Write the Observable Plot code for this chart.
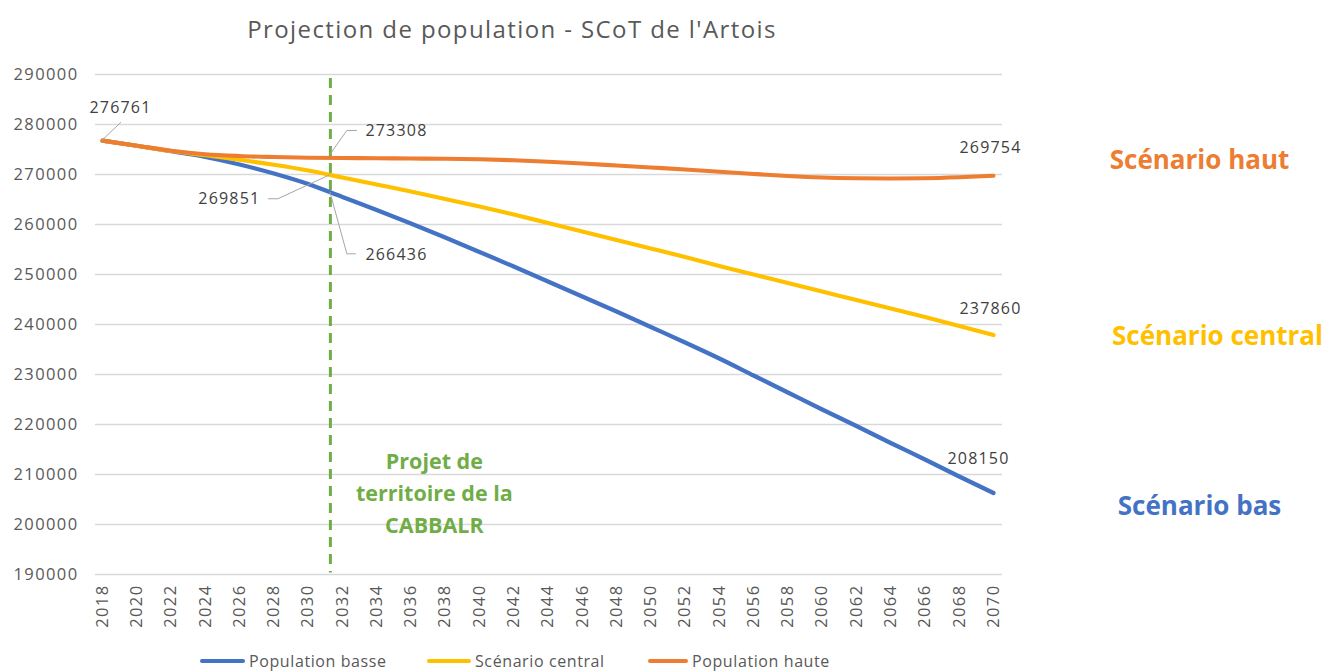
<!DOCTYPE html>
<html>
<head>
<meta charset="utf-8">
<script src="https://cdn.jsdelivr.net/npm/d3@7"></script>
<script src="https://cdn.jsdelivr.net/npm/@observablehq/plot@0.6"></script>
<style>
  html, body { margin: 0; padding: 0; background: #fff; }
  body { width: 1326px; height: 671px; position: relative; overflow: hidden; font-family: "Open Sans", sans-serif; }
  #title { position: absolute; top: 12px; left: 0; width: 1024px; text-align: center; font-size: 24px; letter-spacing: 1.4px; color: #595959; }
  #chart { position: absolute; top: 60px; left: 0; }
  #chart svg g[aria-label="y-axis tick label"] text,
  #chart svg g[aria-label="x-axis tick label"] text { letter-spacing: 1.4px; }
  #chart svg .dl text { letter-spacing: 1.2px; }
  .lg { position: absolute; top: 650px; height: 22px; display: flex; align-items: center; font-size: 16px; letter-spacing: 0.6px; color: #595959; }
  .sw { display: inline-block; height: 4px; border-radius: 2px; margin-right: 4px; }
</style>
</head>
<body>
<div id="title">Projection de population - SCoT de l'Artois</div>
<div id="chart"></div>
<div class="lg" style="left:200px"><span class="sw" style="width:45px;background:#4472C4"></span>Population basse</div>
<div class="lg" style="left:427px"><span class="sw" style="width:44px;background:#FFC000"></span>Scénario central</div>
<div class="lg" style="left:648px"><span class="sw" style="width:40px;background:#ED7D31"></span>Population haute</div>
<script>
// ---- data ----
const years = [2018, 2020, 2022, 2024, 2026, 2028, 2030, 2032, 2034, 2036, 2038, 2040, 2042, 2044,
               2046, 2048, 2050, 2052, 2054, 2056, 2058, 2060, 2062, 2064, 2066, 2068, 2070];
const populationBasse = [276761, 275750, 274650, 273500, 272000, 270200, 268100, 265500, 262900, 260200,
                         257400, 254500, 251600, 248600, 245600, 242600, 239500, 236400, 233200, 229800,
                         226400, 223000, 219700, 216300, 213000, 209600, 206300];
const scenarioCentral = [276761, 275750, 274700, 273850, 272950, 271950, 270800, 269400, 268000, 266600,
                         265100, 263600, 262000, 260300, 258600, 256900, 255200, 253500, 251700, 250000,
                         248300, 246600, 244900, 243200, 241500, 239700, 237900];
const populationHaute = [276761, 275750, 274750, 274050, 273700, 273500, 273350, 273300, 273250, 273200,
                         273150, 273050, 272850, 272550, 272200, 271800, 271400, 271000, 270550, 270100,
                         269700, 269400, 269250, 269200, 269250, 269450, 269754];
const seriesNames = ["Population basse", "Scénario central", "Population haute"];
const seriesColors = ["#4472C4", "#FFC000", "#ED7D31"];
const scenarioLabels = ["Scénario bas", "Scénario central", "Scénario haut"];
const yTicks = [190000, 200000, 210000, 220000, 230000, 240000, 250000, 260000, 270000, 280000, 290000];
const projectYear = 2031.3;           // year of the dashed "Projet de territoire" line
const projectValues = [266436, 269851, 273308]; // basse, central, haute at projectYear
const startLabel = 276761;
const endLabels = ["208150", "237860", "269754"]; // basse, central, haute
const projectText = "Projet de\nterritoire de la\nCABBALR";

// ---- build tables ----
const allSeries = [populationBasse, scenarioCentral, populationHaute];
const rows = allSeries.flatMap((vals, i) => vals.map((v, j) => ({year: years[j], value: v, series: seriesNames[i]})));
const ends = allSeries.map((vals, i) => ({year: years[years.length - 1], value: vals[vals.length - 1], label: endLabels[i], scen: scenarioLabels[i], color: seriesColors[i]}));
const proj = projectValues.map((v, i) => ({year: projectYear, value: v, label: String(v), series: seriesNames[i]}));
const start = [{year: years[0], value: startLabel, label: String(startLabel)}];

// leader lines drawn through the plot's scales (pixel offsets from anchor)
const leaderOffsets = {
  start: [[0, 0], [19, -18]],
  haute: [[0, -3], [17, -27], [27, -27]],
  central: [[0, 0], [-52, 24], [-62, 24]],
  basse: [[0, 0], [17, 62], [26, 62]]
};
function leaders(index, scales) {
  const g = d3.create("svg:g").attr("fill", "none").attr("stroke", "#a6a6a6").attr("stroke-width", 1);
  const items = [
    [start[0], leaderOffsets.start],
    [proj[2], leaderOffsets.haute],
    [proj[1], leaderOffsets.central],
    [proj[0], leaderOffsets.basse]
  ];
  for (const [d, offs] of items) {
    const x0 = scales.x(d.year), y0 = scales.y(d.value);
    g.append("path").attr("d", d3.line()(offs.map(([dx, dy]) => [x0 + dx, y0 + dy])));
  }
  return g.node();
}

const dl = {fontSize: 16, fill: "#404040", className: "dl"};
const chart = Plot.plot({
  width: 1326,
  height: 590,
  marginTop: 14,
  marginBottom: 76,
  marginLeft: 95,
  marginRight: 324,
  insetLeft: 7,
  insetRight: 9,
  style: {fontFamily: "Open Sans, sans-serif", color: "#595959", background: "white", overflow: "visible"},
  x: {domain: [years[0], years[years.length - 1]]},
  y: {domain: [yTicks[0], yTicks[yTicks.length - 1]]},
  color: {domain: seriesNames, range: seriesColors},
  marks: [
    Plot.gridY(yTicks, {stroke: "#d9d9d9", strokeOpacity: 1, strokeWidth: 1.3}),
    Plot.axisY(yTicks, {tickSize: 0, tickPadding: 17, tickFormat: d => String(d), fontSize: 16.5, fill: "#595959", label: null}),
    Plot.axisX(years, {tickSize: 0, tickPadding: 10, tickRotate: -90, tickFormat: d => String(d), fontSize: 16.5, fill: "#595959", label: null}),
    Plot.ruleX([projectYear], {y1: 289200, y2: 190300, stroke: "#70AD47", strokeWidth: 3, strokeDasharray: "10,7"}),
    Plot.line(rows, {x: "year", y: "value", z: "series", stroke: "series", strokeWidth: 4.2, curve: "monotone-x", strokeLinecap: "round"}),
    leaders,
    Plot.text(start, {x: "year", y: "value", text: "label", dx: 18, dy: -33, ...dl}),
    Plot.text([proj[2]], {x: "year", y: "value", text: "label", dx: 35, dy: -27, textAnchor: "start", ...dl}),
    Plot.text([proj[1]], {x: "year", y: "value", text: "label", dx: -70, dy: 24, textAnchor: "end", ...dl}),
    Plot.text([proj[0]], {x: "year", y: "value", text: "label", dx: 35, dy: 63, textAnchor: "start", ...dl}),
    Plot.text([ends[2]], {x: "year", y: "value", text: "label", dx: -3, dy: -28, ...dl}),
    Plot.text([ends[1]], {x: "year", y: "value", text: "label", dx: -3, dy: -26, ...dl}),
    Plot.text([ends[0]], {x: "year", y: "value", text: "label", dx: -15, dy: -34, ...dl}),
    Plot.text([ends[2]], {x: "year", y: "value", text: "scen", dx: 206, dy: -15, fill: "color", fontSize: 26, fontWeight: "bold"}),
    Plot.text([ends[1]], {x: "year", y: "value", text: "scen", dx: 224, dy: 2, fill: "color", fontSize: 26, fontWeight: "bold"}),
    Plot.text([ends[0]], {x: "year", y: "value", text: "scen", dx: 206, dy: 14, fill: "color", fontSize: 26, fontWeight: "bold"}),
    Plot.text([{year: projectYear, value: yTicks[0]}], {x: "year", y: "value", text: () => projectText, dx: 104, dy: -84, textAnchor: "middle", fill: "#70AD47", fontSize: 21.5, fontWeight: "bold", lineHeight: 1.5})
  ]
});
document.getElementById("chart").appendChild(chart);
</script>
</body>
</html>
